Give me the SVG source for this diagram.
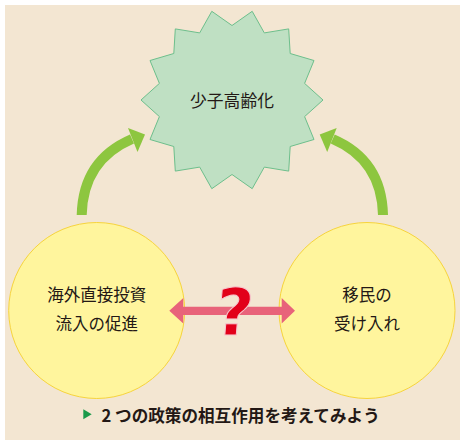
<svg xmlns="http://www.w3.org/2000/svg" width="465" height="445" viewBox="0 0 465 445">
<defs>
<style>
.jp{font-family:"Noto Sans CJK JP","Noto Sans CJK SC",sans-serif;fill:#231815;}
.node{font-size:16.5px;text-anchor:middle;}
.circle{fill:#FFF59D;stroke:#F7D43C;stroke-width:1;}
.garrow{fill:none;stroke:#8DC63F;stroke-width:10;}
.ghead{fill:#8DC63F;}
</style>
</defs>
<rect x="0" y="0" width="465" height="445" fill="#FFFFFF"/>
<rect x="5" y="5" width="455" height="435" fill="#F3E6D2"/>
<g id="connectors">
<path class="garrow" d="M81.7 215 Q83 160 132 139"/>
<polygon class="ghead" points="145,134.5 128,128 137.5,152"/>
<path class="garrow" d="M383 215 Q381.7 160 332.7 139"/>
<polygon class="ghead" points="319.7,134.5 336.7,128 327.2,152"/>
</g>
<g id="node-shoshi">
<polygon fill="#BFE0C3" stroke="#6DBF8C" stroke-width="1" points="323,100 304.6,83.4 314,60.5 290.2,53.5 288.7,28.9 264.3,32.9 252.2,11.3 232,25.5 211.8,11.3 199.7,32.9 175.3,28.9 173.8,53.5 150,60.5 159.4,83.4 141,100 159.4,116.6 150,139.5 173.8,146.5 175.3,171.1 199.7,167.1 211.8,188.7 232,174.5 252.2,188.7 264.3,167.1 288.7,171.1 290.2,146.5 314,139.5 304.6,116.6"/>
<text class="jp" x="232" y="106.5" font-size="16.8" text-anchor="middle">少子高齢化</text>
</g>
<g id="node-fdi">
<circle class="circle" cx="96.7" cy="310.5" r="88"/>
<text class="jp node" x="96.7" y="301">海外直接投資</text>
<text class="jp node" x="96.7" y="330">流入の促進</text>
</g>
<g id="node-imm">
<circle class="circle" cx="367" cy="310.5" r="88"/>
<text class="jp node" x="367" y="301">移民の</text>
<text class="jp node" x="367" y="330">受け入れ</text>
</g>
<g id="interaction">
<polygon fill="#E8637A" points="169.3,310.8 183.3,298 183.3,306.7 281.7,306.7 281.7,298 295,310.8 281.7,323.5 281.7,315 183.3,315 183.3,323.5"/>
<text x="232.5" y="335" font-family="DejaVu Sans, sans-serif" font-weight="bold" font-size="65" text-anchor="middle" fill="#E2001A" stroke="#F7C9CF" stroke-width="1" transform="skewX(-5) translate(29.3 0)">?</text>
</g>
<g id="caption">
<polygon fill="#1A9A4A" points="83.3,409.3 91.7,414.3 83.3,419.3"/>
<text class="jp" x="101.5" y="421.5" font-size="16.6" font-weight="bold">2 つの政策の相互作用を考えてみよう</text>
</g>
</svg>
